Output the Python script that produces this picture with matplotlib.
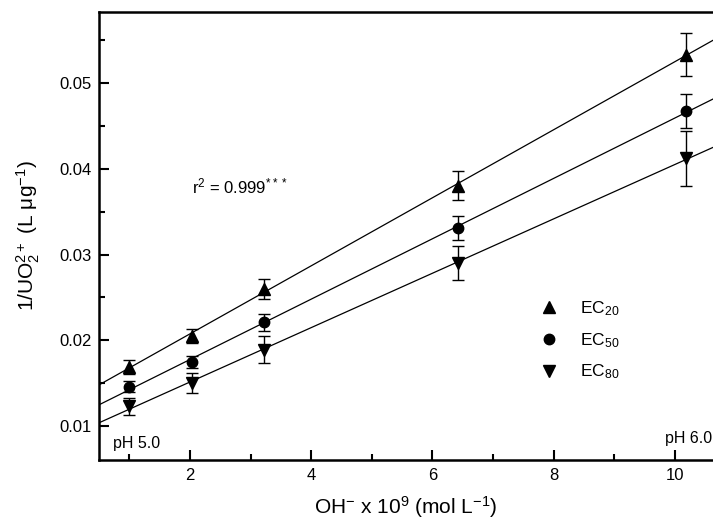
import numpy as np
import matplotlib
matplotlib.use("Agg")
import matplotlib.pyplot as plt
from matplotlib.ticker import MultipleLocator

plt.rcParams['font.family'] = ['Liberation Sans', 'DejaVu Sans']
plt.rcParams['mathtext.default'] = 'regular'

# Data
oh = [1.0, 2.03, 3.22, 6.42, 10.18]
ec20 = [0.0169, 0.0205, 0.0260, 0.0380, 0.0533]
ec20_err = [0.0008, 0.0008, 0.0012, 0.0017, 0.0025]
ec50 = [0.0146, 0.0175, 0.0221, 0.0331, 0.0467]
ec50_err = [0.0006, 0.0007, 0.0010, 0.0014, 0.0020]
ec80 = [0.0123, 0.0150, 0.0189, 0.0290, 0.0412]
ec80_err = [0.0010, 0.0012, 0.0016, 0.0020, 0.0032]

series = [
    ('EC$_{20}$', ec20, ec20_err, '^', 9),
    ('EC$_{50}$', ec50, ec50_err, 'o', 7.5),
    ('EC$_{80}$', ec80, ec80_err, 'v', 9),
]

fig = plt.figure(figsize=(7.13, 5.24), dpi=100)
ax = fig.add_axes([99/713, 64/524, (713-99)/713, 448/524])

xlim = (0.5, 10.63)
ax.set_xlim(*xlim)
ax.set_ylim(0.00604, 0.05828)

xs = np.array(xlim)
for label, y, e, m, ms in series:
    k, b = np.polyfit(oh, y, 1)
    ax.plot(xs, k * xs + b, color='black', lw=0.9, zorder=2)
    ax.errorbar(oh, y, yerr=e, fmt='none', ecolor='black', elinewidth=1.0,
                capsize=4.5, capthick=1.0, zorder=3)
    ax.plot(oh, y, ls='none', marker=m, ms=ms, color='black', label=label, zorder=4)

ax.spines['right'].set_visible(False)
for s in ['left', 'bottom', 'top']:
    ax.spines[s].set_linewidth(1.8)

ax.xaxis.set_major_locator(MultipleLocator(2))
ax.xaxis.set_minor_locator(MultipleLocator(1))
ax.yaxis.set_major_locator(MultipleLocator(0.01))
ax.yaxis.set_minor_locator(MultipleLocator(0.005))
ax.tick_params(which='both', direction='in', top=False, right=False, labelsize=12, width=1.5)
ax.tick_params(which='major', length=7)
ax.tick_params(which='minor', length=4.5)
ax.set_xticks([2, 4, 6, 8, 10])
ax.set_xticklabels(['2', '4', '6', '8', '10'])
ax.set_yticks([0.01, 0.02, 0.03, 0.04, 0.05])
ax.set_yticklabels(['0.01', '0.02', '0.03', '0.04', '0.05'])
ax.tick_params(axis='x', pad=6)
ax.tick_params(axis='y', pad=5)

ax.set_xlabel('OH$^{-}$ x 10$^{9}$ (mol L$^{-1}$)', fontsize=15, labelpad=8)
ax.set_ylabel('1/UO$_2^{2+}$ (L \u03bcg$^{-1}$)', fontsize=15, labelpad=13)

ax.text(2.03, 0.0379, 'r$^{2}$ = 0.999$^{***}$', fontsize=12, ha='left', va='center')
ax.text(0.73, 0.0080, 'pH 5.0', fontsize=11.5, ha='left', va='center')
ax.text(0.998, 0.0086, 'pH 6.0', fontsize=11.5, ha='right', va='center',
        transform=ax.get_yaxis_transform())

ax.legend(loc='center left', bbox_to_anchor=(0.718, 0.267), frameon=False,
          handlelength=1.0, handletextpad=1.3, labelspacing=0.75,
          borderaxespad=0, borderpad=0, fontsize=12.5)

fig.savefig('out.png', dpi=100)
